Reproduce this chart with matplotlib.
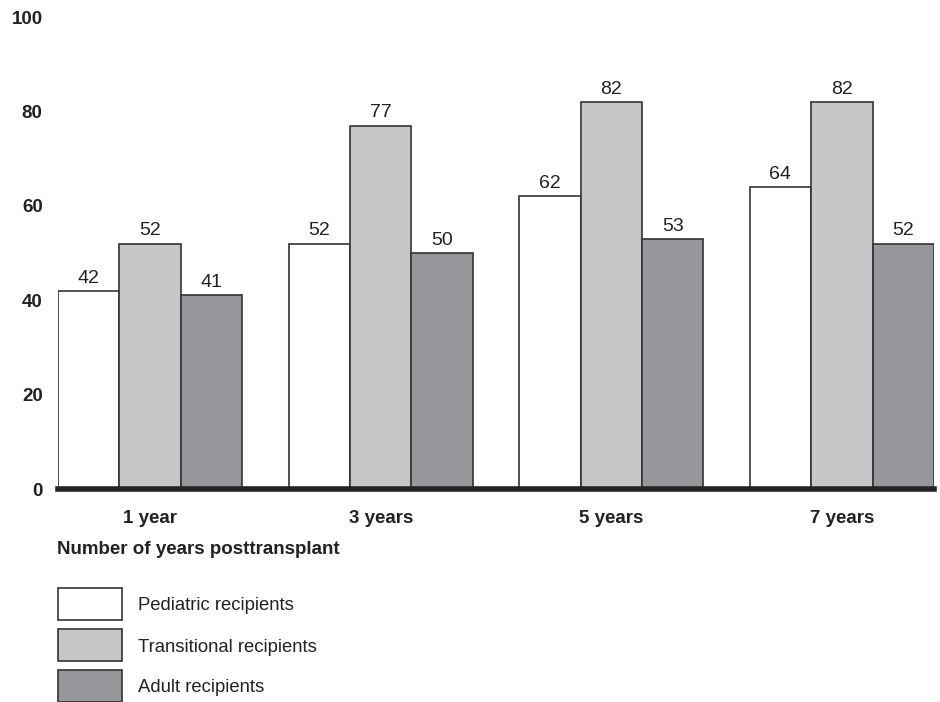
import numpy as np
import matplotlib.pyplot as plt
from matplotlib.patches import Rectangle

# ==== data ====
years = ["1 year", "3 years", "5 years", "7 years"]
pediatric = [42, 52, 62, 64]
transitional = [52, 77, 82, 82]
adult = [41, 50, 53, 52]
series_names = ["Pediatric recipients", "Transitional recipients", "Adult recipients"]
yticks = [0, 20, 40, 60, 80, 100]

colors = ["#ffffff", "#c6c7c9", "#96979b"]
edge = "#333333"
txt = "#222222"

plt.rcParams['font.family'] = ['Liberation Sans', 'DejaVu Sans']

fig = plt.figure(figsize=(9.4, 7.02), dpi=100)
ax = fig.add_axes([58/940, 213/702, 876/940, 472/702])

x = np.arange(len(years))
w = 0.8/3
for k, vals in enumerate([pediatric, transitional, adult]):
	bars = ax.bar(x + (k-1)*w, vals, width=w, color=colors[k], edgecolor=edge, linewidth=1.2, zorder=2)
	ax.bar_label(bars, labels=[str(v) for v in vals], padding=3, fontsize=14, color=txt)

ax.set_xlim(-0.4, 3.4)
ax.set_ylim(0, 100)
ax.set_yticks(yticks)
ax.set_yticklabels([str(t) for t in yticks], fontsize=13.5, fontweight="bold", color=txt)
ax.set_xticks(x)
ax.set_xticklabels(years, fontsize=13.5, fontweight="bold", color=txt)
ax.tick_params(axis="y", length=0, pad=11)
ax.tick_params(axis="x", length=0, pad=15)
for s in ["left", "top", "right"]:
	ax.spines[s].set_visible(False)
ax.spines["bottom"].set_linewidth(4)
ax.spines["bottom"].set_color(txt)
ax.spines["bottom"].set_zorder(3)

fig.text(57/940, 1 - 550/702, "Number of years posttransplant", fontsize=13.5, fontweight="bold",
	color=txt, va="center", ha="left")

# legend boxes drawn by hand, in pixel positions of the figure
box_top = 588
for k, name in enumerate(series_names):
	top = box_top + k*41
	fig.add_artist(Rectangle((58/940, 1 - (top+32)/702), 64/940, 32/702, transform=fig.transFigure,
		facecolor=colors[k], edgecolor=edge, linewidth=1.2))
	fig.text(138/940, 1 - (top+18)/702, name, fontsize=13.3, color=txt, va="center", ha="left")

fig.savefig("out.png", dpi=100)
